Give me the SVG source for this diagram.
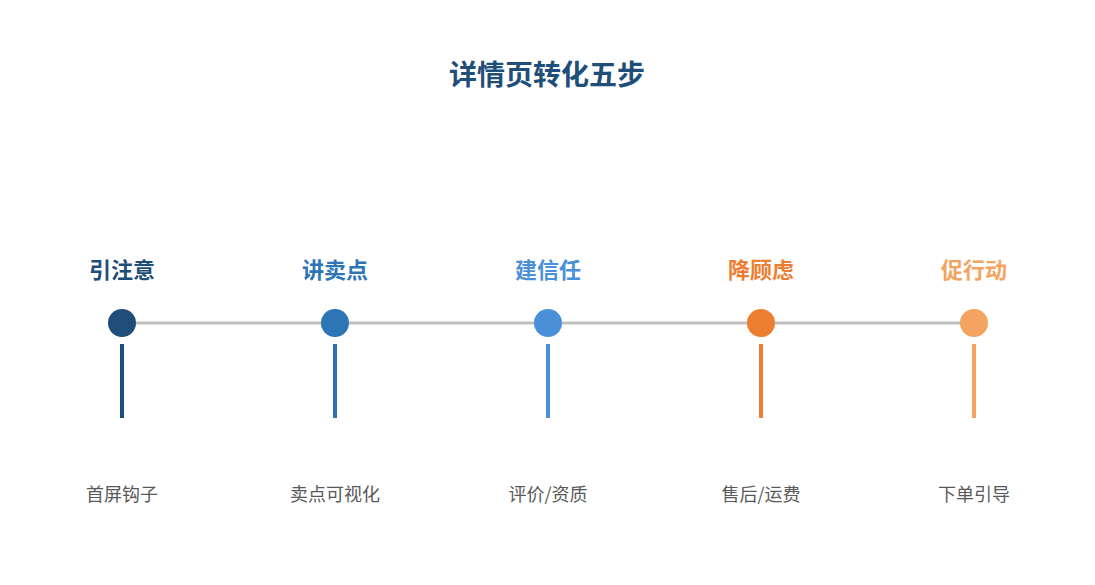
<svg xmlns="http://www.w3.org/2000/svg" width="1095" height="585" viewBox="0 0 1095 585">
<style>
text{font-family:"Noto Sans CJK SC","Liberation Sans",sans-serif;text-anchor:middle}
.t{font-size:28px;font-weight:bold;fill:#1F4E79}
.h{font-size:22px;font-weight:bold}
.s{font-size:18px;fill:#595959}
.c{stroke:#BFBFBF;stroke-width:3;fill:none;marker-end:url(#a)}
</style>
<defs><marker id="a" markerWidth="10" markerHeight="10" refX="8" refY="5" orient="auto" markerUnits="userSpaceOnUse"><path d="M2,1 L8,5 L2,9" fill="none" stroke="#BFBFBF" stroke-width="2.5"/></marker></defs>
<rect width="1095" height="585" fill="#fff"/>
<text class="t" x="547" y="85">详情页转化五步</text>
<g id="connectors">
<line class="c" x1="136" y1="323" x2="328" y2="323"/>
<line class="c" x1="349" y1="323" x2="541" y2="323"/>
<line class="c" x1="562" y1="323" x2="754" y2="323"/>
<line class="c" x1="775" y1="323" x2="967" y2="323"/>
</g>
<g id="n1"><text class="h" x="122" y="278" fill="#1F4E79">引注意</text><circle cx="122" cy="323" r="14" fill="#1F4E79"/><rect x="120" y="344" width="4" height="74" fill="#1F4E79"/><text class="s" x="122" y="501">首屏钩子</text></g>
<g id="n2"><text class="h" x="335" y="278" fill="#2E75B6">讲卖点</text><circle cx="335" cy="323" r="14" fill="#2E75B6"/><rect x="333" y="344" width="4" height="74" fill="#2E75B6"/><text class="s" x="335" y="501">卖点可视化</text></g>
<g id="n3"><text class="h" x="548" y="278" fill="#4A90D9">建信任</text><circle cx="548" cy="323" r="14" fill="#4A90D9"/><rect x="546" y="344" width="4" height="74" fill="#4A90D9"/><text class="s" x="548" y="501">评价/资质</text></g>
<g id="n4"><text class="h" x="761" y="278" fill="#ED7D31">降顾虑</text><circle cx="761" cy="323" r="14" fill="#ED7D31"/><rect x="759" y="344" width="4" height="74" fill="#ED7D31"/><text class="s" x="761" y="501">售后/运费</text></g>
<g id="n5"><text class="h" x="974" y="278" fill="#F4A460">促行动</text><circle cx="974" cy="323" r="14" fill="#F4A460"/><rect x="972" y="344" width="4" height="74" fill="#F4A460"/><text class="s" x="974" y="501">下单引导</text></g>
</svg>
